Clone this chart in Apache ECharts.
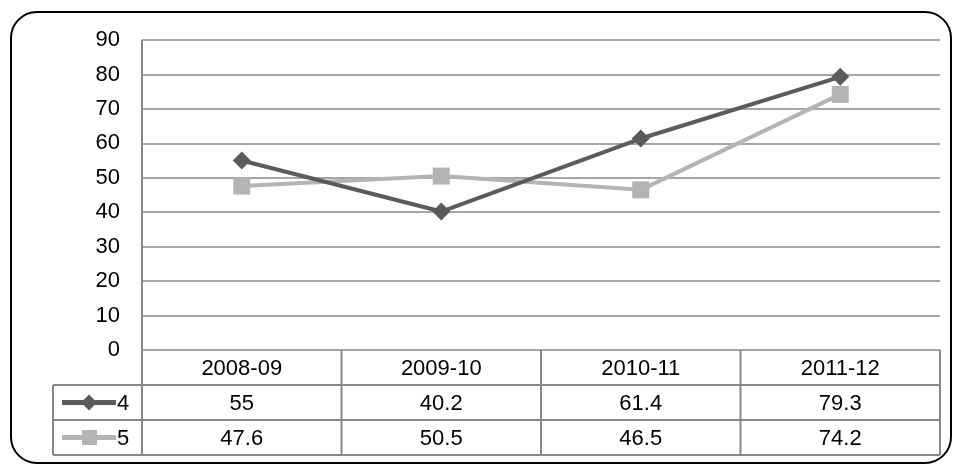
<!DOCTYPE html><html><head><meta charset="utf-8">
<script src="https://cdn.jsdelivr.net/npm/echarts@6/dist/echarts.min.js"></script>
<style>html,body{margin:0;background:#fff}#c{width:961px;height:465px}</style></head><body><div id="c"></div>
<script>
const categories=['2008-09','2009-10','2010-11','2011-12'];
const seriesNames=['4','5'];
const s4=[55,40.2,61.4,79.3];
const s5=[47.6,50.5,46.5,74.2];
const colors=['#5b5b5b','#b4b4b4'];
const L=142,R=940,T=40,B=350,RH=35,LL=53;
const F='"Liberation Sans", Arial, sans-serif';
const FS=22;
const g=[];
g.push({type:'rect',shape:{x:11,y:12,width:940,height:451,r:26},style:{fill:'none',stroke:'#000',lineWidth:2},z:-1});
const cw=(R-L)/categories.length;
const lineSty={stroke:'#888',lineWidth:2};
g.push({type:'line',shape:{x1:L,y1:B+RH,x2:R,y2:B+RH},style:lineSty});
g.push({type:'line',shape:{x1:LL,y1:B+RH,x2:L,y2:B+RH},style:lineSty});
g.push({type:'line',shape:{x1:LL,y1:B+2*RH,x2:R,y2:B+2*RH},style:lineSty});
g.push({type:'line',shape:{x1:LL,y1:B+3*RH,x2:R,y2:B+3*RH},style:lineSty});
g.push({type:'line',shape:{x1:LL,y1:B+RH,x2:LL,y2:B+3*RH},style:lineSty});
for(let i=0;i<=categories.length;i++){
  g.push({type:'line',shape:{x1:L+i*cw,y1:(i==0?T:B),x2:L+i*cw,y2:B+3*RH},style:lineSty});
}
const rows=[s4,s5];
categories.forEach((c,i)=>{
  g.push({type:'text',x:L+(i+.5)*cw,y:B+RH/2+1,style:{text:c,fontSize:FS,fontFamily:F,fill:'#000',align:'center',verticalAlign:'middle'}});
  rows.forEach((r,j)=>g.push({type:'text',x:L+(i+.5)*cw,y:B+RH*(j+1.5)+1,style:{text:String(r[i]),fontSize:FS,fontFamily:F,fill:'#000',align:'center',verticalAlign:'middle'}}));
});
seriesNames.forEach((n,j)=>{
  const y=B+RH*(j+1.5);
  g.push({type:'line',shape:{x1:62,y1:y,x2:116,y2:y},style:{stroke:colors[j],lineWidth:5}});
  if(j==0) g.push({type:'polygon',shape:{points:[[89,y-8],[97,y],[89,y+8],[81,y]]},style:{fill:colors[j]}});
  else g.push({type:'rect',shape:{x:82,y:y-7.5,width:15,height:15},style:{fill:colors[j]}});
  g.push({type:'text',x:117,y:y+1,style:{text:n,fontSize:FS,fontFamily:F,fill:'#000',align:'left',verticalAlign:'middle'}});
});
const ch=echarts.init(document.getElementById('c'));
ch.setOption({animation:false,
 grid:{left:L,right:961-R,top:T,bottom:465-B},
 xAxis:{type:'category',data:categories,boundaryGap:true,axisLabel:{show:false},axisTick:{show:false},axisLine:{show:false}},
 yAxis:{type:'value',min:0,max:90,interval:10,axisLabel:{fontSize:FS,fontFamily:F,color:'#000',margin:22},
   splitLine:{lineStyle:{color:'#888',width:1.5}},axisLine:{show:false},axisTick:{show:false}},
 series:[
  {name:'4',type:'line',data:s4,symbol:'diamond',symbolSize:18,lineStyle:{color:colors[0],width:4},itemStyle:{color:colors[0]},z:3},
  {name:'5',type:'line',data:s5,symbol:'rect',symbolSize:17,lineStyle:{color:colors[1],width:4},itemStyle:{color:colors[1]},z:2}
 ],
 graphic:g});
</script></body></html>
